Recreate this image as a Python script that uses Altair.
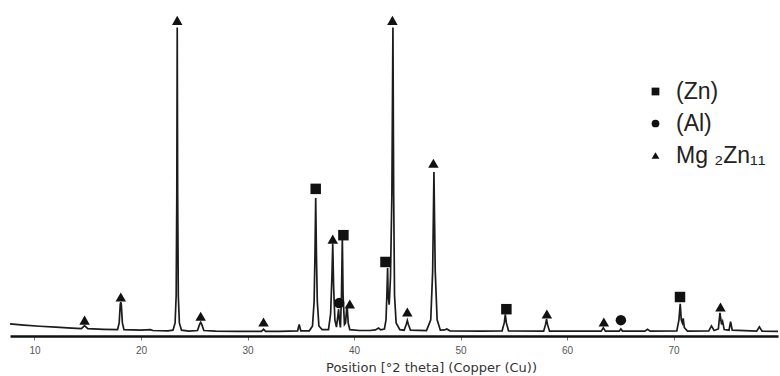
import altair as alt
import pandas as pd

# XRD pattern (2-theta in degrees, relative intensity)
two_theta = [
    7.7, 9.0, 10.5, 12.0, 13.5, 14.4, 14.6, 14.7, 14.8, 15.0,
    16.5, 17.8, 17.95, 18.05, 18.1, 18.15, 18.25, 18.4, 20.0, 20.9,
    21.1, 22.5, 23.0, 23.2, 23.3, 23.36, 23.4, 23.44, 23.5, 23.6,
    23.8, 24.5, 25.3, 25.5, 25.6, 25.7, 25.9, 27.0, 29.0, 31.3,
    31.5, 31.7, 33.0, 34.7, 34.85, 35.0, 35.8, 36.1, 36.25, 36.33,
    36.4, 36.47, 36.55, 36.7, 37.0, 37.6, 37.8, 37.92, 38.0, 38.08,
    38.2, 38.35, 38.5, 38.55, 38.62, 38.72, 38.82, 38.9, 38.97, 39.1,
    39.2, 39.3, 39.36, 39.45, 39.6, 40.5, 41.5, 42.0, 42.3, 42.5,
    42.85, 43.0, 43.08, 43.15, 43.2, 43.3, 43.42, 43.55, 43.65, 43.72,
    43.8, 43.95, 44.3, 44.7, 44.9, 45.0, 45.1, 45.3, 46.8, 47.2,
    47.38, 47.5, 47.62, 47.8, 48.1, 48.5, 48.7, 49.0, 52.0, 53.9,
    54.1, 54.2, 54.3, 54.5, 57.8, 57.98, 58.07, 58.16, 58.35, 63.2,
    63.4, 63.6, 64.9, 65.05, 65.2, 67.3, 67.55, 67.8, 70.3, 70.5,
    70.62, 70.72, 70.82, 70.9, 71.0, 71.3, 73.3, 73.55, 73.8, 74.2,
    74.35, 74.5, 74.6, 74.75, 75.2, 75.35, 75.5, 77.8, 78.05, 78.3,
    79.8,
]
intensity = [
    2.7, 2.3, 1.9, 1.6, 1.3, 1.1, 1.8, 2.1, 1.8, 1.1,
    0.9, 0.8, 3.0, 9.0, 9.8, 9.0, 3.0, 0.8, 0.6, 0.8,
    0.5, 0.4, 0.6, 3.0, 12.0, 45.0, 100.0, 45.0, 12.0, 3.0,
    0.6, 0.3, 0.5, 2.5, 3.2, 2.5, 0.5, 0.3, 0.2, 0.2,
    0.9, 0.2, 0.2, 0.4, 2.5, 0.4, 0.4, 2.0, 10.0, 25.0,
    44.0, 25.0, 10.0, 2.0, 0.8, 0.8, 6.0, 18.0, 29.0, 15.0,
    4.0, 1.6, 6.0, 7.5, 4.0, 1.5, 12.0, 31.0, 12.0, 2.5,
    3.0, 7.5, 8.0, 3.0, 0.8, 0.5, 0.5, 0.7, 1.3, 0.7,
    1.0, 4.0, 12.0, 21.0, 12.0, 9.0, 18.0, 45.0, 100.0, 45.0,
    12.0, 3.0, 0.8, 0.6, 2.5, 3.8, 2.5, 0.6, 0.5, 4.0,
    20.0, 52.5, 20.0, 4.0, 0.6, 0.7, 1.0, 0.4, 0.3, 0.4,
    3.0, 5.8, 3.0, 0.4, 0.3, 2.5, 4.2, 2.5, 0.3, 0.3,
    1.4, 0.3, 0.3, 1.0, 0.3, 0.3, 0.9, 0.3, 0.4, 4.0,
    9.3, 4.0, 3.0, 4.5, 1.5, 0.3, 0.4, 2.0, 0.5, 1.0,
    6.3, 2.5, 3.5, 0.8, 0.6, 3.4, 0.6, 0.3, 1.7, 0.3,
    0.2,
]

MG = "Mg ₂Zn₁₁"

# Phase markers placed above the peaks
marker_theta = [14.7, 18.1, 23.4, 25.6, 31.5, 36.4, 38.0, 38.6, 39.0, 39.6,
                42.95, 43.6, 45.0, 47.45, 54.3, 58.1, 63.45, 65.05, 70.6, 74.4]
marker_level = [3.9, 11.5, 102.3, 5.2, 3.3, 47.0, 30.5, 9.5, 31.8, 9.2,
                23.0, 102.3, 6.6, 55.4, 7.5, 5.9, 3.3, 3.9, 11.5, 8.2]
marker_phase = [MG, MG, MG, MG, MG, "(Zn)",
                MG, "(Al)", "(Zn)", MG, "(Zn)", MG,
                MG, MG, "(Zn)", MG, MG, "(Al)",
                "(Zn)", MG]

phases = ["(Zn)", "(Al)", MG]
shapes = ["square", "circle", "triangle-up"]
tick_values = [10, 20, 30, 40, 50, 60, 70]

curve = pd.DataFrame({"theta": two_theta, "I": intensity})
marks = pd.DataFrame({"theta": marker_theta, "I": marker_level, "phase": marker_phase})

xscale = alt.Scale(domain=[7.7, 79.8], nice=False, zero=False)
yscale = alt.Scale(domain=[-1.3, 109], nice=False, zero=False)

xaxis = alt.Axis(
    values=tick_values, title="Position [°2 theta] (Copper (Cu))",
    grid=False, domainColor="#111", domainWidth=2.5,
    tickColor="#777", tickSize=4, tickWidth=1,
    labelFont="Liberation Sans", labelFontSize=10, labelColor="#555", labelPadding=5,
    titleFont="DejaVu Sans", titleFontSize=13, titleFontWeight="normal",
    titleColor="#333", titleX=421, titleY=31, titleBaseline="middle", titleAlign="center",
)

line = alt.Chart(curve).mark_line(color="#1c1c1c", strokeWidth=1.7, interpolate="linear").encode(
    x=alt.X("theta:Q", scale=xscale, axis=xaxis),
    y=alt.Y("I:Q", scale=yscale, axis=None),
)

points = alt.Chart(marks).mark_point(filled=True, size=110, color="#111", opacity=1).encode(
    x=alt.X("theta:Q", scale=xscale),
    y=alt.Y("I:Q", scale=yscale),
    shape=alt.Shape(
        "phase:N",
        scale=alt.Scale(domain=phases, range=shapes),
        legend=alt.Legend(
            title=None, orient="none", legendX=634, legendY=80,
            symbolSize=60, symbolFillColor="#111", symbolStrokeWidth=0,
            labelFont="Liberation Sans", labelFontSize=23, labelColor="#222",
            labelOffset=9, rowPadding=8,
        ),
    ),
)

chart = alt.layer(line, points).properties(
    width=768, height=336,
    autosize=alt.AutoSizeParams(type="none"),
    padding={"left": 10, "top": 0, "right": 2, "bottom": 40},
).configure_view(stroke=None)

chart.save("out.html", embed_options={"renderer": "svg", "actions": False})
